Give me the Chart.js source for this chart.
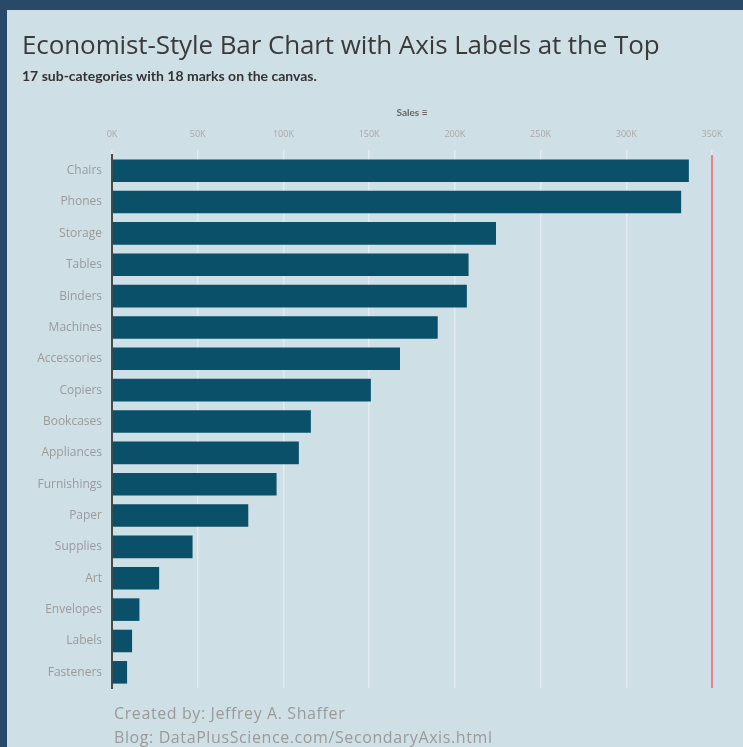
<!DOCTYPE html>
<html>
<head>
<meta charset="utf-8">
<script src="https://cdn.jsdelivr.net/npm/chart.js@4/dist/chart.umd.min.js"></script>
<style>
  html, body { margin:0; padding:0; background:#284a68; width:743px; height:747px; overflow:hidden; font-family: Lato, "Open Sans", sans-serif; }
  #panel { position:absolute; left:7px; top:10px; width:736px; height:737px; background:#cfdfe6; }
  #chartWrap { position:absolute; left:0; top:0; width:743px; height:747px; }
  .txt { position:absolute; white-space:nowrap; }
  #title { left:22px; top:26px; font-family:"Open Sans", sans-serif; font-size:26px; color:#3a3a3a; letter-spacing:-0.1px; }
  #sub { left:22px; top:67px; font-size:14px; font-weight:bold; color:#333; }
  #foot1 { left:114px; top:702px; font-family:"Open Sans", sans-serif; font-size:16px; letter-spacing:0.6px; color:#9a9a9a; }
  #foot2 { left:114px; top:726px; font-family:"Open Sans", sans-serif; font-size:16px; letter-spacing:0.6px; color:#9a9a9a; }
</style>
</head>
<body>
<div id="panel"></div>
<div id="chartWrap"><canvas id="barChart" width="743" height="747"></canvas></div>
<div class="txt" id="title">Economist-Style Bar Chart with Axis Labels at the Top</div>
<div class="txt" id="sub">17 sub-categories with 18 marks on the canvas.</div>
<div class="txt" id="foot1">Created by: Jeffrey A. Shaffer</div>
<div class="txt" id="foot2">Blog: DataPlusScience.com/SecondaryAxis.html</div>
<script>
// data
const subCategories = ['Chairs','Phones','Storage','Tables','Binders','Machines','Accessories','Copiers','Bookcases','Appliances','Furnishings','Paper','Supplies','Art','Envelopes','Labels','Fasteners']
const sales = [336500, 332000, 224000, 208000, 207000, 190000, 168000, 151000, 116000, 109000, 96000, 79500, 47000, 27500, 16000, 11700, 8800]
const refLine = 350000
const axisMax = 350000
const tickStep = 50000

// red reference line (the 18th mark)
const refLinePlugin = {
  id:'refLine',
  afterDatasetsDraw(chart){
    const {ctx, chartArea, scales} = chart
    const x = scales.x.getPixelForValue(refLine)
    ctx.save()
    ctx.strokeStyle = '#ee7f86'
    ctx.lineWidth = 2
    ctx.beginPath()
    ctx.moveTo(x, chartArea.top)
    ctx.lineTo(x, chartArea.bottom)
    ctx.stroke()
    ctx.restore()
  }
}

try {
  const ctx = document.getElementById('barChart')
  new Chart(ctx, {
    type:'bar',
    data:{
      labels: subCategories,
      datasets:[{ label:'Sales', data: sales, backgroundColor:'#0a5069', borderWidth:0, barPercentage:0.72, categoryPercentage:1 }]
    },
    options:{
      indexAxis:'y',
      responsive:false,
      animation:false,
      layout:{ padding:{ left:0, right:31, top:100, bottom:59 } },
      plugins:{ legend:{display:false}, tooltip:{enabled:false} },
      scales:{
        x:{
          position:'top',
          min:0, max:axisMax,
          ticks:{ stepSize:tickStep, color:'#a9a9a9', font:{family:'Open Sans', size:9}, padding:10,
            callback:v=> (v/1000)+'K' },
          grid:{ color:'rgba(255,255,255,0.4)', lineWidth:1.5, drawTicks:true, tickLength:5 },
          border:{ display:false },
          title:{ display:true, text:'Sales \u2261', color:'#666', font:{family:'Lato', size:10, weight:'bold'}, padding:{top:7, bottom:0} },
          afterFit(s){ s.height = 55 }
        },
        y:{
          ticks:{ color:'#9a9a9a', font:{family:'Open Sans', size:12}, padding:2 },
          grid:{ display:false },
          border:{ display:true, color:'#4a4a4a', width:2 },
          afterFit(s){ s.width = 112 }
        }
      }
    },
    plugins:[refLinePlugin]
  })
} catch(e) {
  console.error('Error drawing chart:', e)
}
</script>
</body>
</html>
